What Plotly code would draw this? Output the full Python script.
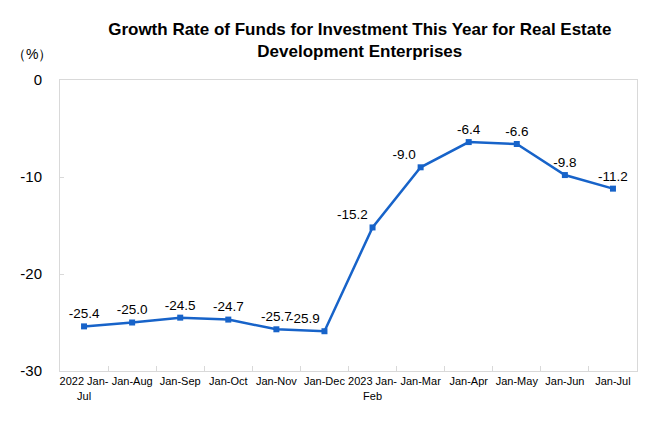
import plotly.graph_objects as go

categories = ["2022 Jan-<br>Jul", "Jan-Aug", "Jan-Sep", "Jan-Oct", "Jan-Nov", "Jan-Dec",
              "2023 Jan-<br>Feb", "Jan-Mar", "Jan-Apr", "Jan-May", "Jan-Jun", "Jan-Jul"]
values = [-25.4, -25.0, -24.5, -24.7, -25.7, -25.9, -15.2, -9.0, -6.4, -6.6, -9.8, -11.2]
labels = [f"{v:.1f}" for v in values]
y_ticks = [0, -10, -20, -30]
y_tick_text = ["0", "-10", "-20", "-30"]

label_pos = ["top center"] * len(values)
for i in (5, 6, 7):
    label_pos[i] = "top left"

fig = go.Figure(go.Scatter(
    x=categories, y=values, mode="lines+markers+text",
    line=dict(color="#1763C9", width=2.5),
    marker=dict(symbol="square", size=6, color="#1763C9"),
    text=labels, textposition=label_pos,
    textfont=dict(family="Liberation Sans, Arial", size=13.5, color="#000000"),
    cliponaxis=False,
))

fig.update_layout(
    width=660, height=440,
    margin=dict(l=52, r=31, t=72, b=77),
    paper_bgcolor="white", plot_bgcolor="white",
    showlegend=False,
    title=dict(text="<b>Growth Rate of Funds for Investment This Year for Real Estate<br>Development Enterprises</b>",
               x=0.533, xanchor="center", y=0.938, yanchor="top",
               font=dict(family="Liberation Sans, Arial", size=17, color="#000000")),
    font=dict(family="Liberation Sans, Arial", size=12, color="#000000"),
    annotations=[dict(text="（%）", x=0, xref="paper", y=1, yref="paper",
                      xanchor="left", yanchor="bottom", xshift=-50, yshift=16, showarrow=False,
                      font=dict(size=14))],
)

fig.update_xaxes(range=[-0.5, len(categories) - 0.5],
                 showline=True, linecolor="#D9D9D9", mirror=True, showgrid=False,
                 ticks="inside", tickcolor="#D9D9D9", ticklen=5, tickson="boundaries",
                 tickangle=0, automargin=False,
                 tickfont=dict(family="Liberation Sans, Arial", size=11))
fig.update_yaxes(range=[-30, 0], tickvals=y_ticks, ticktext=y_tick_text,
                 showline=True, linecolor="#D9D9D9", mirror=True,
                 showgrid=False, zeroline=False, ticks="inside", tickcolor="#D9D9D9",
                 ticklen=4, tickfont=dict(size=15), automargin=False,
                 ticklabelstandoff=14)

fig.write_html("out.html")
